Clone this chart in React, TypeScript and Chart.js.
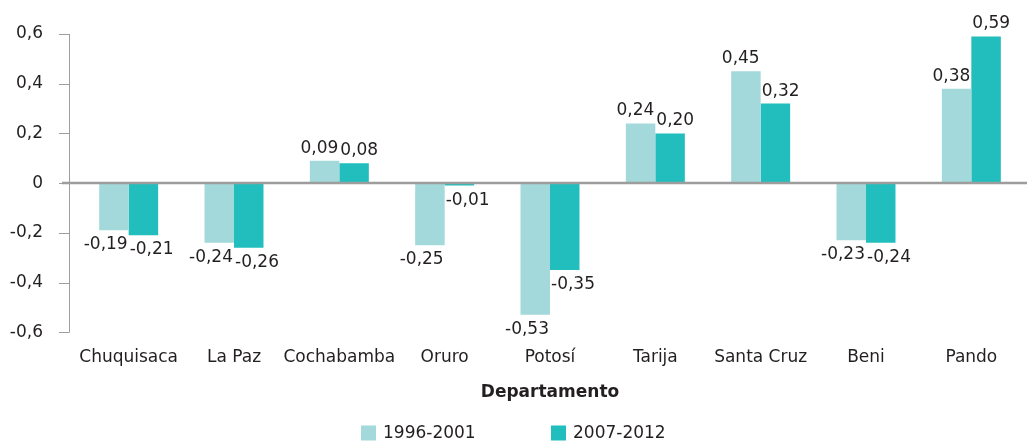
import React, { useEffect, useRef } from "react";
import { Chart, registerables } from "chart.js";

Chart.register(...registerables);

const categories = ["Chuquisaca", "La Paz", "Cochabamba", "Oruro", "Potosí", "Tarija", "Santa Cruz", "Beni", "Pando"];
const seriesLabels = ["1996-2001", "2007-2012"];
const series1996 = [-0.19, -0.24, 0.09, -0.25, -0.53, 0.24, 0.45, -0.23, 0.38];
const series2007 = [-0.21, -0.26, 0.08, -0.01, -0.35, 0.2, 0.32, -0.24, 0.59];
const yTicks = [-0.6, -0.4, -0.2, 0, 0.2, 0.4, 0.6];

const LIGHT = "#a3d9da";
const DARK = "#21bebd";
const TEXT = "#231f20";
const AXIS = "#9d9d9d";
const FONT = "'DejaVu Sans', sans-serif";

const fmtTick = (v: number) => (Math.abs(v) < 1e-9 ? "0" : v.toFixed(1).replace(".", ","));
const fmtVal = (v: number) => v.toFixed(2).replace(".", ",");

const decorPlugin = {
  id: "decor",
  afterDatasetsDraw(chart: any) {
    const ctx = chart.ctx;
    const y = chart.scales.y;
    ctx.save();
    // y axis line and ticks
    const axisX = 69;
    ctx.strokeStyle = AXIS;
    ctx.lineWidth = 1;
    ctx.beginPath();
    ctx.moveTo(axisX + 0.5, y.getPixelForValue(0.6));
    ctx.lineTo(axisX + 0.5, y.getPixelForValue(-0.6));
    yTicks.forEach((t) => {
      const py = Math.round(y.getPixelForValue(t)) + 0.5;
      ctx.moveTo(axisX - 10, py);
      ctx.lineTo(axisX + 0.5, py);
    });
    ctx.stroke();
    // zero line
    const zy = y.getPixelForValue(0);
    ctx.lineWidth = 2.5;
    ctx.beginPath();
    ctx.moveTo(62, zy);
    ctx.lineTo(chart.width, zy);
    ctx.stroke();

    // data labels
    ctx.font = `17px ${FONT}`;
    ctx.fillStyle = TEXT;
    chart.data.datasets.forEach((ds: any, di: number) => {
      const meta = chart.getDatasetMeta(di);
      meta.data.forEach((bar: any, i: number) => {
        const v = ds.data[i];
        const half = bar.width / 2;
        const tx = di === 0 ? bar.x + half - 1 : bar.x - half + 1;
        ctx.textAlign = di === 0 ? "right" : "left";
        if (v >= 0) {
          ctx.textBaseline = "bottom";
          ctx.fillText(fmtVal(v), tx, bar.y - 4);
        } else {
          ctx.textBaseline = "top";
          ctx.fillText(fmtVal(v), tx, bar.y + 6);
        }
      });
    });

    // legend
    const ly = 433;
    const items = [
      { x: 361, color: LIGHT, label: chart.data.datasets[0].label },
      { x: 551, color: DARK, label: chart.data.datasets[1].label },
    ];
    ctx.textAlign = "left";
    ctx.textBaseline = "middle";
    items.forEach((it) => {
      ctx.fillStyle = it.color;
      ctx.fillRect(it.x, ly - 7.5, 15, 15);
      ctx.fillStyle = TEXT;
      ctx.fillText(it.label, it.x + 22, ly + 1);
    });
    ctx.restore();
  },
};

export default function App() {
  const ref = useRef<HTMLCanvasElement | null>(null);
  useEffect(() => {
    document.body.style.margin = "0";
    if (!ref.current) return;
    const chart = new Chart(ref.current, {
      type: "bar",
      data: {
        labels: categories,
        datasets: [
          { label: seriesLabels[0], data: series1996, backgroundColor: LIGHT, categoryPercentage: 0.56, barPercentage: 1.0 },
          { label: seriesLabels[1], data: series2007, backgroundColor: DARK, categoryPercentage: 0.56, barPercentage: 1.0 },
        ],
      },
      options: {
        responsive: false,
        animation: false,
        devicePixelRatio: 1,
        layout: { padding: { left: 10, right: 3, top: 34, bottom: 41 } },
        plugins: { legend: { display: false }, tooltip: { enabled: false } },
        scales: {
          x: {
            grid: { display: false, drawTicks: false },
            border: { display: false },
            ticks: {
              color: TEXT,
              font: { family: FONT, size: 17 },
              padding: 15,
              maxRotation: 0,
              minRotation: 0,
              autoSkip: false,
            },
            title: {
              display: true,
              text: "Departamento",
              color: TEXT,
              font: { family: FONT, size: 17, weight: "bold" },
              padding: { top: 0, bottom: 0 },
            },
          },
          y: {
            min: -0.6,
            max: 0.6,
            grid: { display: false, drawTicks: false },
            border: { display: false },
            afterFit: (scale: any) => {
              scale.width = 66;
              scale.paddingTop = 0;
              scale.paddingBottom = 0;
            },
            ticks: {
              stepSize: 0.2,
              color: TEXT,
              font: { family: FONT, size: 17 },
              padding: 33,
              callback: (v: any) => fmtTick(Number(v)),
            },
          },
        },
      },
      plugins: [decorPlugin],
    });
    return () => chart.destroy();
  }, []);
  return (
    <div style={{ width: 1027, height: 444 }}>
      <canvas ref={ref} width={1027} height={444} style={{ display: "block" }} />
    </div>
  );
}
